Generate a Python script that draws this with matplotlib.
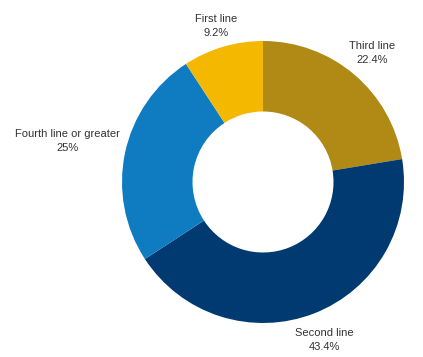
import numpy as np
import matplotlib.pyplot as plt

# data, clockwise from 12 o'clock
labels = ["Third line", "Second line", "Fourth line or greater", "First line"]
shares = [22.4, 43.4, 25.0, 9.2]
share_text = ["22.4%", "43.4%", "25%", "9.2%"]
colors = ["#B08A14", "#003A70", "#0F7BC0", "#F5B800"]

plt.rcParams["font.family"] = ["Liberation Sans", "DejaVu Sans"]

W, H = 423, 357
CX, CY, R = 263, 175, 141      # pie centre (px from bottom-left) and radius

fig = plt.figure(figsize=(W / 100, H / 100), dpi=100)
ax = fig.add_axes([0, 0, 1, 1])

wedges, _ = ax.pie(shares, colors=colors, startangle=90, counterclock=False,
                   radius=1.0, wedgeprops=dict(width=0.5, edgecolor="none"))

# label distance from centre (in radii), the wide left label sits further out
label_r = {"Third line": 1.2, "Second line": 1.2,
           "Fourth line or greater": 1.42, "First line": 1.155}
for w, name, txt in zip(wedges, labels, share_text):
    mid = np.deg2rad((w.theta1 + w.theta2) / 2)
    r = label_r[name]
    ax.text(r * np.cos(mid), r * np.sin(mid), f"{name}\n{txt}",
            ha="center", va="center", fontsize=8, color="#333333",
            linespacing=1.5)

ax.set_xlim(-CX / R, (W - CX) / R)
ax.set_ylim(-CY / R, (H - CY) / R)
ax.set_aspect("equal")
ax.axis("off")

fig.savefig("out.png", dpi=100)
